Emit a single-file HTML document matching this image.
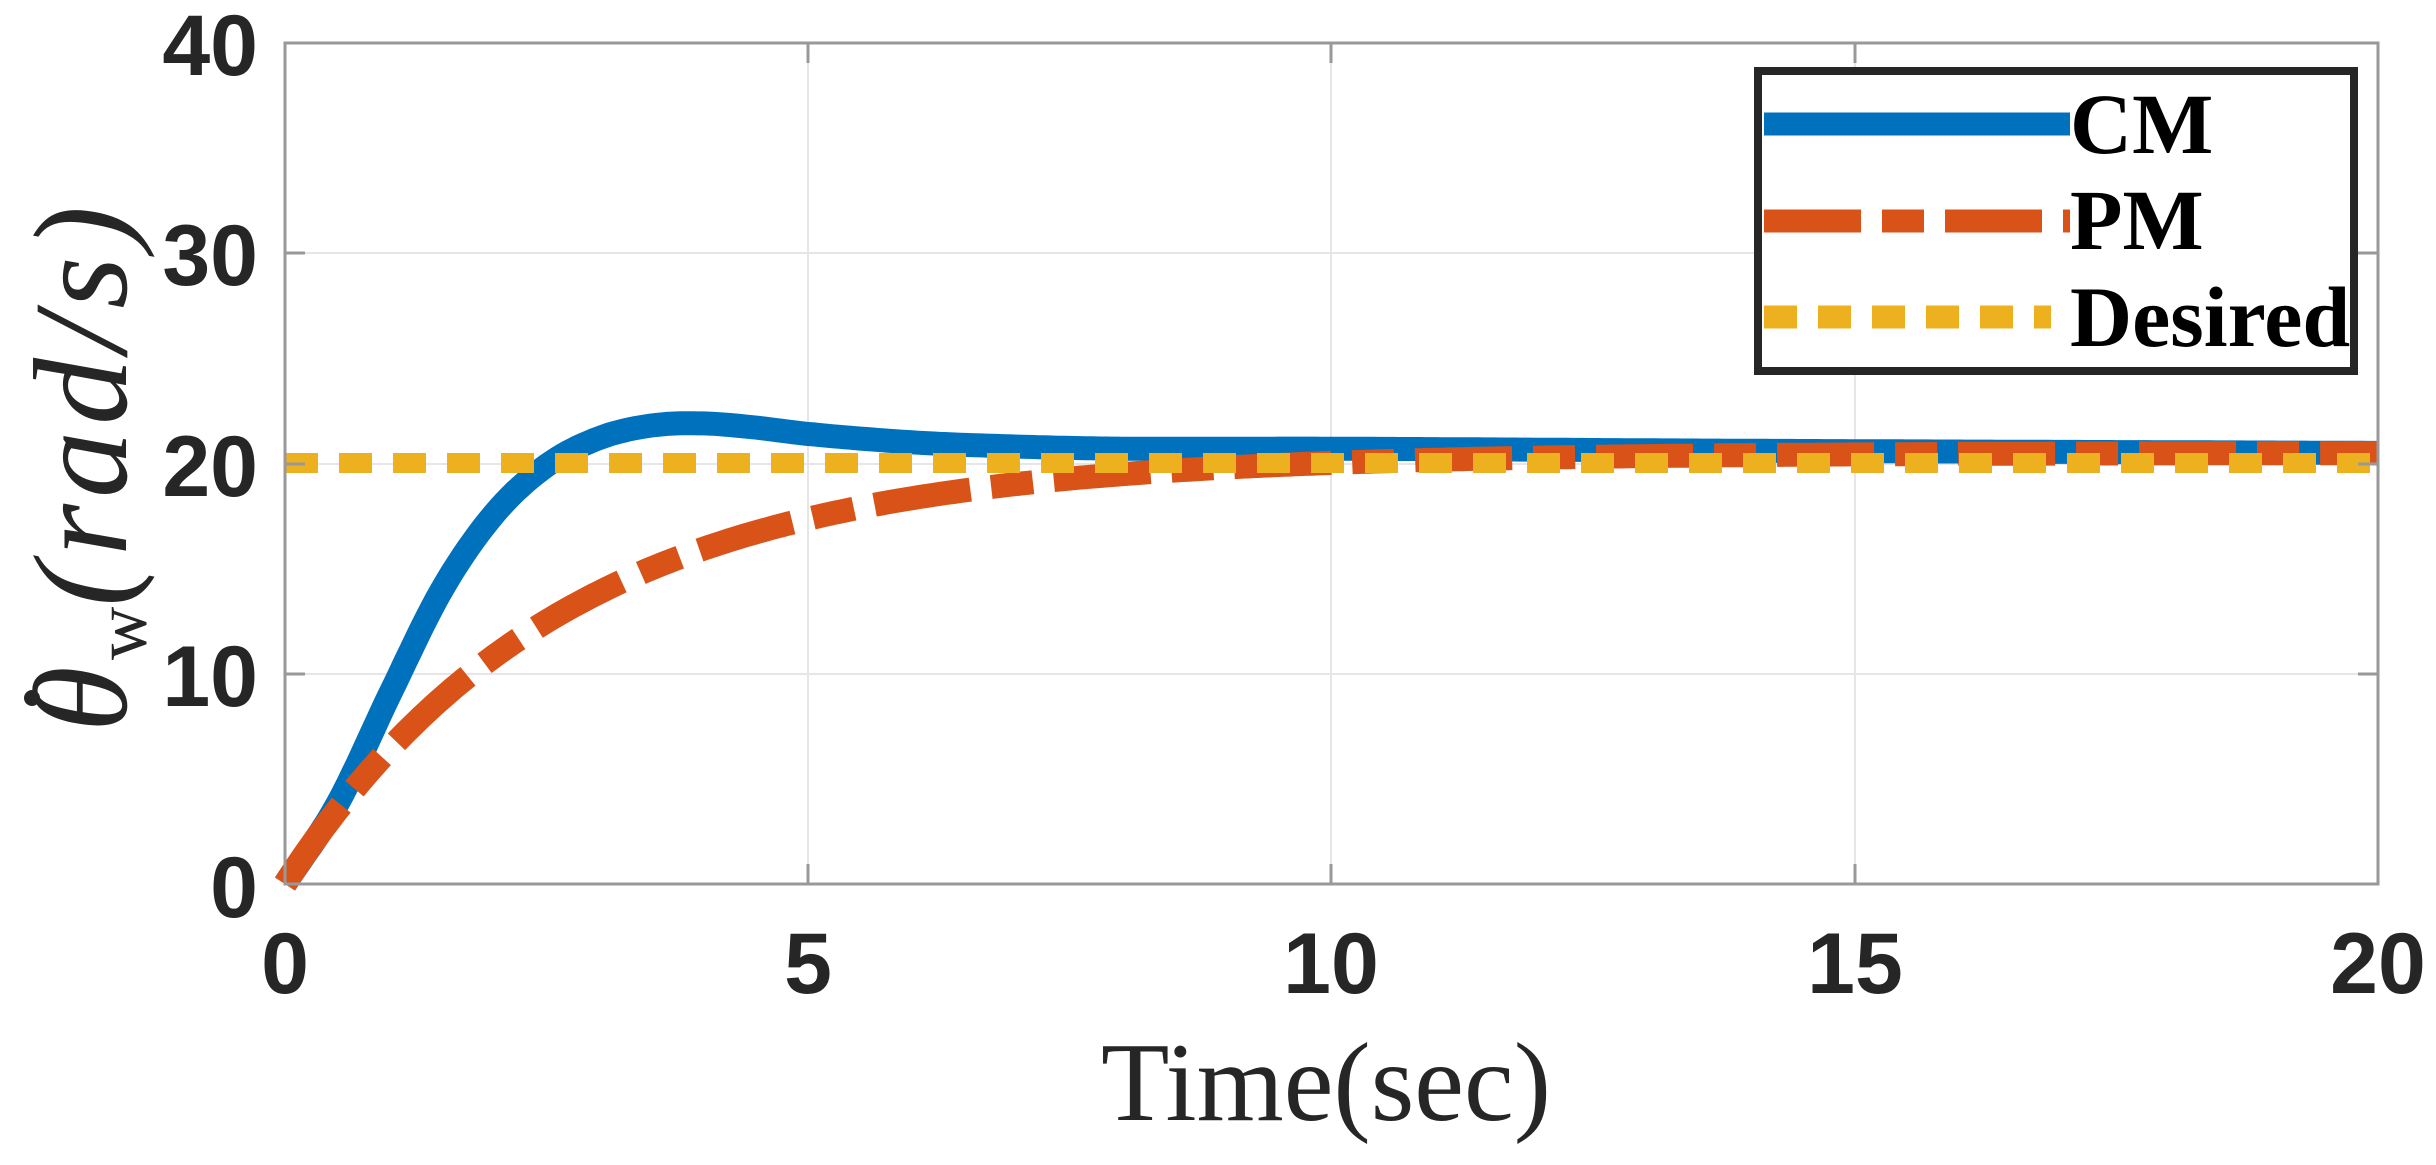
<!DOCTYPE html>
<html><head><meta charset="utf-8"><style>
html,body{margin:0;padding:0;background:#fff;}
svg{display:block;}
</style></head><body>
<svg id="s" width="2436" height="1165" viewBox="0 0 2436 1165" xmlns="http://www.w3.org/2000/svg">
<rect width="2436" height="1165" fill="#fff"/>
<g stroke="#e6e6e6" stroke-width="2">
<line x1="808" y1="43" x2="808" y2="884"/><line x1="1331" y1="43" x2="1331" y2="884"/><line x1="1855" y1="43" x2="1855" y2="884"/>
<line x1="285" y1="674" x2="2378" y2="674"/><line x1="285" y1="464" x2="2378" y2="464"/><line x1="285" y1="253" x2="2378" y2="253"/>
</g>
<g id="curves"></g>
<rect x="285" y="43" width="2093" height="841" fill="none" stroke="#999" stroke-width="3"/>
<g stroke="#999" stroke-width="3">
<line x1="808" y1="884" x2="808" y2="864"/><line x1="1331" y1="884" x2="1331" y2="864"/><line x1="1855" y1="884" x2="1855" y2="864"/>
<line x1="808" y1="43" x2="808" y2="63"/><line x1="1331" y1="43" x2="1331" y2="63"/><line x1="1855" y1="43" x2="1855" y2="63"/>
<line x1="285" y1="674" x2="305" y2="674"/><line x1="285" y1="464" x2="305" y2="464"/><line x1="285" y1="253" x2="305" y2="253"/>
<line x1="2378" y1="674" x2="2358" y2="674"/><line x1="2378" y1="464" x2="2358" y2="464"/><line x1="2378" y1="253" x2="2358" y2="253"/>
</g>
<g font-family="Liberation Sans, sans-serif" font-weight="bold" font-size="86" fill="#262626">
<g text-anchor="end">
<text x="258" y="917">0</text><text x="258" y="706">10</text><text x="258" y="496">20</text><text x="258" y="285">30</text><text x="258" y="75">40</text>
</g>
<g text-anchor="middle">
<text x="285" y="993">0</text><text x="808" y="993">5</text><text x="1331" y="993">10</text><text x="1855" y="993">15</text><text x="2378" y="993">20</text>
</g>
</g>
<text x="1326" y="1120" text-anchor="middle" font-family="Liberation Serif, serif" font-size="112" fill="#262626">Time(sec)</text>
<g transform="translate(126,474) rotate(-90)">
<text x="-258" y="0" font-family="Liberation Serif, serif" font-size="134" letter-spacing="6" fill="#262626"><tspan font-style="italic">θ</tspan><tspan font-size="74" dy="20" letter-spacing="0">w</tspan><tspan dy="-20" font-style="italic">(rad/s)</tspan></text>
<circle cx="-224" cy="-94" r="8" fill="#262626"/>
</g>
<rect x="1758" y="71" width="596" height="300" fill="#fff" stroke="#262626" stroke-width="8"/>
<line x1="1764" y1="124" x2="2070" y2="124" stroke="#0072bd" stroke-width="23"/>
<line x1="1764" y1="221" x2="2070" y2="221" stroke="#d95319" stroke-width="23" stroke-dasharray="97 21 42 21"/>
<line x1="1764" y1="317" x2="2051" y2="317" stroke="#edb120" stroke-width="23" stroke-dasharray="33 21"/>
<g font-family="Liberation Serif, serif" font-weight="bold" font-size="86" fill="#000">
<text x="2070" y="153">CM</text><text x="2070" y="249">PM</text><text x="2070" y="346">Desired</text>
</g>
</svg>
<script>
(function(){
var X=function(t){return 285+t*104.65;},Y=function(v){return 884-v*21.03;};
var P=[[0,0],[0.5,3.8],[1,9],[1.5,14],[2,17.6],[2.5,19.9],[3,21.2],[3.5,21.8],[4,21.9],[4.5,21.7],[5,21.4],[6,21],[7,20.8],[8,20.7],[10,20.7],[14,20.6],[20,20.5]];
function cm(t){for(var i=0;i<P.length-1;i++){if(t<=P[i+1][0]){var p0=P[Math.max(i-1,0)],p1=P[i],p2=P[i+1],p3=P[Math.min(i+2,P.length-1)];var h=p2[0]-p1[0],s=(t-p1[0])/h;var m1=(p2[1]-p0[1])/(p2[0]-p0[0]||1)*h,m2=(p3[1]-p1[1])/(p3[0]-p1[0]||1)*h;var s2=s*s,s3=s2*s;return (2*s3-3*s2+1)*p1[1]+(s3-2*s2+s)*m1+(-2*s3+3*s2)*p2[1]+(s3-s2)*m2;}}return P[P.length-1][1];}
function pm(t){return 20.5*(1-Math.exp(-t/2.66));}
function path(f){var d="";for(var i=0;i<=400;i++){var t=i*0.05;d+=(i?"L":"M")+X(t).toFixed(1)+" "+Y(f(t)).toFixed(1);}return d;}
var ns="http://www.w3.org/2000/svg",g=document.getElementById("curves");
function add(d,c,w,da){var p=document.createElementNS(ns,"path");p.setAttribute("d",d);p.setAttribute("fill","none");p.setAttribute("stroke",c);p.setAttribute("stroke-width",w);if(da)p.setAttribute("stroke-dasharray",da);g.appendChild(p);}
add(path(cm),"#0072bd",24);
add(path(pm),"#d95319",24,"97 21 42 21");
add("M285 463L2378 463","#edb120",20,"33 21");
})();
</script>
</body></html>
